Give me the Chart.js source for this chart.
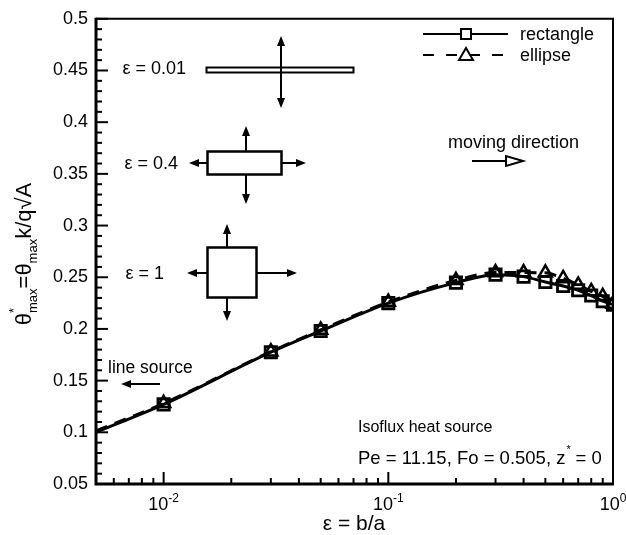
<!DOCTYPE html>
<html>
<head>
<meta charset="utf-8">
<script src="https://cdn.jsdelivr.net/npm/chart.js@4.4.1/dist/chart.umd.min.js"></script>
<style>
  html, body { margin: 0; padding: 0; background: #fff; }
  #wrap { width: 626px; height: 535px; }
</style>
</head>
<body>
<div id="wrap"><canvas id="chart"></canvas></div>
<script>
// aspect ratio b/a where the markers sit
const epsValues = [0.01, 0.03, 0.05, 0.1, 0.2, 0.3, 0.4, 0.5, 0.6, 0.7, 0.8, 0.9, 1.0];
const rectValues = [0.127, 0.1775, 0.198, 0.225, 0.2448, 0.2525, 0.2506, 0.2454, 0.2415, 0.2374, 0.2323, 0.2268, 0.2235];
const ellipseValues = [0.128, 0.178, 0.199, 0.226, 0.247, 0.2545, 0.2545, 0.2543, 0.2489, 0.2426, 0.2363, 0.2315, 0.2242];
// curves run on to the left edge (line source limit), no marker there
const lineStartEps = 0.005;
const rectStart = 0.100;
const ellipseStart = 0.1015;

const yTicks = [0.05, 0.1, 0.15, 0.2, 0.25, 0.3, 0.35, 0.4, 0.45, 0.5];
const yTickLabels = ['0.05', '0.1', '0.15', '0.2', '0.25', '0.3', '0.35', '0.4', '0.45', '0.5'];
const xMajorTicks = [0.01, 0.1, 1];
const xTickExponents = ['-2', '-1', '0'];

const FONT = '"Liberation Sans", Arial, sans-serif';

function seriesData(start, values) {
    const pts = [{ x: lineStartEps, y: start }];
    epsValues.forEach((x, i) => pts.push({ x: x, y: values[i] }));
    return pts;
}

function text(ctx, str, x, y, size, align, baseline) {
    ctx.font = size + 'px ' + FONT;
    ctx.textAlign = align || 'left';
    ctx.textBaseline = baseline || 'middle';
    ctx.fillText(str, x, y);
}

// filled (or open) arrow head at (x2, y2)
function arrow(ctx, x1, y1, x2, y2, open) {
    const head = open ? 17 : 10, hw = open ? 5 : 4;
    const a = Math.atan2(y2 - y1, x2 - x1);
    const bx = x2 - head * Math.cos(a), by = y2 - head * Math.sin(a);
    ctx.beginPath();
    ctx.moveTo(x1, y1);
    ctx.lineTo(bx, by);
    ctx.stroke();
    ctx.beginPath();
    ctx.moveTo(x2, y2);
    ctx.lineTo(bx + hw * Math.sin(a), by - hw * Math.cos(a));
    ctx.lineTo(bx - hw * Math.sin(a), by + hw * Math.cos(a));
    ctx.closePath();
    if (open) { ctx.fillStyle = '#fff'; ctx.fill(); ctx.stroke(); ctx.fillStyle = '#000'; }
    else ctx.fill();
}

const decorPlugin = {
    id: 'decor',
    afterDraw(chart) {
        const ctx = chart.ctx;
        const area = chart.chartArea;
        const xs = chart.scales.x, ys = chart.scales.y;
        ctx.save();
        ctx.strokeStyle = '#000';
        ctx.fillStyle = '#000';
        ctx.lineCap = 'butt';

        // frame
        ctx.lineWidth = 2;
        ctx.beginPath();
        ctx.moveTo(area.left, area.top);
        ctx.lineTo(area.right, area.top);
        ctx.lineTo(area.right, area.bottom);
        ctx.stroke();
        ctx.lineWidth = 3;
        ctx.beginPath();
        ctx.moveTo(area.left, area.top - 1);
        ctx.lineTo(area.left, area.bottom);
        ctx.lineTo(area.right + 1, area.bottom);
        ctx.stroke();

        // y ticks (inward)
        ctx.lineWidth = 2;
        for (let i = 5; i <= 50; i++) {
            const y = ys.getPixelForValue(i / 100);
            const len = i % 5 === 0 ? 12 : 6;
            ctx.beginPath();
            ctx.moveTo(area.left, y);
            ctx.lineTo(area.left + len, y);
            ctx.stroke();
        }
        // x ticks (inward)
        [0.001, 0.01, 0.1].forEach(d => {
            for (let k = 1; k <= 9; k++) {
                const v = k * d;
                if (v < 0.005 - 1e-9 || v > 1) continue;
                const x = xs.getPixelForValue(v);
                const len = k === 1 ? 12 : 6;
                ctx.beginPath();
                ctx.moveTo(x, area.bottom);
                ctx.lineTo(x, area.bottom - len);
                ctx.stroke();
            }
        });

        // x tick labels 10^n
        xMajorTicks.forEach((v, i) => {
            const x = xs.getPixelForValue(v);
            ctx.font = '18px ' + FONT;
            const w1 = ctx.measureText('10').width;
            ctx.font = '12px ' + FONT;
            const w2 = ctx.measureText(xTickExponents[i]).width;
            const x0 = x - (w1 + w2) / 2;
            text(ctx, '10', x0, 510, 18, 'left', 'alphabetic');
            text(ctx, xTickExponents[i], x0 + w1, 502, 12, 'left', 'alphabetic');
        });

        // axis titles
        text(ctx, 'ε = b/a', 354, 530, 21, 'center', 'alphabetic');

        ctx.save();
        ctx.translate(31, 254);
        ctx.rotate(-Math.PI / 2);
        const parts = [
            { t: 'θ' }, { sub: 'max', sup: '*' }, { t: '=θ' }, { sub: 'max' }, { t: 'k/q√A' }
        ];
        let total = 0;
        parts.forEach(p => {
            if (p.t) { ctx.font = '22px ' + FONT; p.w = ctx.measureText(p.t).width; }
            else { ctx.font = '13px ' + FONT; p.w = ctx.measureText(p.sub).width; }
            total += p.w;
        });
        let px = -total / 2;
        parts.forEach(p => {
            if (p.t) text(ctx, p.t, px, 0, 22, 'left', 'alphabetic');
            else {
                text(ctx, p.sub, px, 6, 13, 'left', 'alphabetic');
                if (p.sup) text(ctx, p.sup, px, -13, 13, 'left', 'alphabetic');
            }
            px += p.w;
        });
        ctx.restore();

        // legend
        ctx.lineWidth = 2;
        ctx.beginPath();
        ctx.moveTo(423, 34);
        ctx.lineTo(508, 34);
        ctx.stroke();
        ctx.fillStyle = '#fff';
        ctx.fillRect(461, 29, 10, 10);
        ctx.fillStyle = '#000';
        ctx.strokeRect(461, 29, 10, 10);
        ctx.setLineDash([11, 12]);
        ctx.beginPath();
        ctx.moveTo(423, 55);
        ctx.lineTo(508, 55);
        ctx.stroke();
        ctx.setLineDash([]);
        ctx.beginPath();
        ctx.moveTo(466, 48);
        ctx.lineTo(473, 60);
        ctx.lineTo(459, 60);
        ctx.closePath();
        ctx.fillStyle = '#fff';
        ctx.fill();
        ctx.stroke();
        ctx.fillStyle = '#000';
        text(ctx, 'rectangle', 520, 35, 18);
        text(ctx, 'ellipse', 520, 56, 18);

        // source shapes
        text(ctx, 'ε = 0.01', 186, 69, 18, 'right');
        text(ctx, 'ε = 0.4', 178, 164, 18, 'right');
        text(ctx, 'ε = 1', 164, 274, 18, 'right');
        ctx.lineWidth = 2;
        ctx.fillStyle = '#fff';
        ctx.fillRect(206.5, 67.5, 147, 5);
        ctx.fillStyle = '#000';
        ctx.strokeRect(206.5, 67.5, 147, 5);
        arrow(ctx, 281, 70, 281, 36);
        arrow(ctx, 281, 70, 281, 108);

        ctx.lineWidth = 2.5;
        ctx.strokeRect(207.5, 151.5, 74, 23);
        ctx.lineWidth = 2;
        arrow(ctx, 246, 151, 246, 126);
        arrow(ctx, 246, 175, 246, 204);
        arrow(ctx, 207, 163, 189, 163);
        arrow(ctx, 282, 163, 306, 163);

        ctx.lineWidth = 2.5;
        ctx.strokeRect(207.5, 247.5, 49, 50);
        ctx.lineWidth = 2;
        arrow(ctx, 227, 247, 227, 224);
        arrow(ctx, 227, 298, 227, 321);
        arrow(ctx, 207, 273, 187, 273);
        arrow(ctx, 257, 273, 297, 273);

        // direction notes
        text(ctx, 'moving direction', 448, 143, 18);
        arrow(ctx, 472, 161, 523, 161, true);
        text(ctx, 'line source', 108, 368, 17.5);
        arrow(ctx, 160, 384, 121, 384);

        text(ctx, 'Isoflux heat source', 358, 428, 16);
        ctx.font = '18.5px ' + FONT;
        const pe = 'Pe = 11.15, Fo = 0.505, z';
        text(ctx, pe, 358, 459, 18.5);
        ctx.font = '18.5px ' + FONT;
        const wpe = ctx.measureText(pe).width;
        text(ctx, '*', 358 + wpe + 1, 450, 11);
        text(ctx, ' = 0', 358 + wpe + 5, 459, 18.5);

        ctx.restore();
    }
};

new Chart(document.getElementById('chart'), {
    type: 'scatter',
    data: {
        datasets: [
            {
                label: 'ellipse',
                data: seriesData(ellipseStart, ellipseValues),
                showLine: true,
                borderColor: '#000',
                borderWidth: 3,
                borderDash: [12, 8],
                cubicInterpolationMode: 'monotone',
                pointStyle: 'triangle',
                pointRadius: c => c.dataIndex === 0 ? 0 : 7.5,
                pointBorderWidth: 2.5,
                pointBorderColor: '#000',
                pointBackgroundColor: 'rgba(0,0,0,0)'
            },
            {
                label: 'rectangle',
                data: seriesData(rectStart, rectValues),
                showLine: true,
                borderColor: '#000',
                borderWidth: 3,
                cubicInterpolationMode: 'monotone',
                pointStyle: 'rect',
                pointRadius: c => c.dataIndex === 0 ? 0 : 8,
                pointBorderWidth: 2.8,
                pointBorderColor: '#000',
                pointBackgroundColor: 'rgba(0,0,0,0)'
            }
        ]
    },
    options: {
        responsive: true,
        maintainAspectRatio: false,
        animation: false,
        layout: { padding: { left: 0, top: 11, right: 13, bottom: 0 } },
        plugins: {
            legend: { display: false },
            tooltip: { enabled: false }
        },
        scales: {
            x: {
                type: 'logarithmic',
                min: 0.005,
                max: 1,
                grid: { display: false },
                border: { display: false },
                ticks: { display: false },
                afterFit: s => { s.height = 51; }
            },
            y: {
                min: 0.05,
                max: 0.5,
                grid: { display: false, drawTicks: false },
                border: { display: false },
                afterBuildTicks: s => { s.ticks = yTicks.map(v => ({ value: v })); },
                afterFit: s => { s.width = 96; },
                ticks: {
                    padding: 8,
                    color: '#000',
                    font: { family: FONT, size: 18 },
                    callback: (v, i) => yTickLabels[i]
                }
            }
        }
    },
    plugins: [decorPlugin]
});
</script>
</body>
</html>
